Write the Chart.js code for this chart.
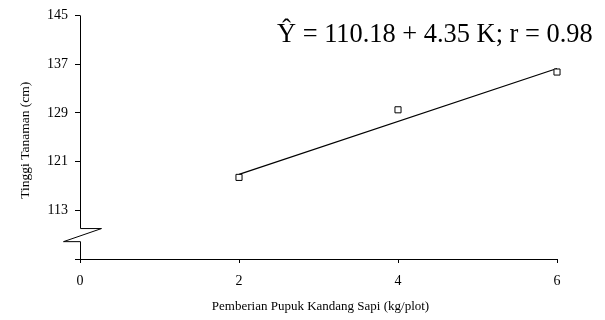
<!DOCTYPE html>
<html>
<head>
<meta charset="utf-8">
<script src="https://cdn.jsdelivr.net/npm/chart.js@4/dist/chart.umd.min.js"></script>
<style>
  html, body { margin: 0; padding: 0; background: #fff; }
  #wrap { width: 605px; height: 320px; position: relative; }
</style>
</head>
<body>
<div id="wrap"><canvas id="c"></canvas></div>
<script>
// Observed plant height for each manure dose
const doses = [2, 4, 6];
const heights = [118.4, 129.5, 135.7];

// Fitted line Ŷ = 110.18 + 4.35 K, evaluated at K = 2 and K = 6
const fitDoses = [2, 6];
const fitHeights = [118.88, 136.28];

const xTicks = [0, 2, 4, 6];
const yTicks = [105, 113, 121, 129, 137, 145];
const yLabelled = [113, 121, 129, 137, 145];

const equationText = 'Ŷ = 110.18 + 4.35 K; r = 0.98';
const xTitle = 'Pemberian Pupuk Kandang Sapi (kg/plot)';
const yTitle = 'Tinggi Tanaman (cm)';

const serif = '"Liberation Serif", "Times New Roman", serif';

// Y axis drawn by hand so it can carry the break symbol near the origin
const brokenAxis = {
  id: 'brokenAxis',
  afterDraw(chart) {
    const { ctx, scales: { x, y } } = chart;
    const ax = x.getPixelForValue(0);
    const top = y.getPixelForValue(145);
    const bottom = y.getPixelForValue(105);
    const b1 = y.getPixelForValue(110);
    const b2 = y.getPixelForValue(107.85);
    ctx.save();
    ctx.strokeStyle = '#000';
    ctx.lineWidth = 1;
    ctx.beginPath();
    ctx.moveTo(ax + 0.5, top);
    ctx.lineTo(ax + 0.5, b1);
    ctx.lineTo(ax + 21.5, b1);
    ctx.lineTo(ax - 16.5, b2);
    ctx.lineTo(ax + 0.5, b2);
    ctx.lineTo(ax + 0.5, bottom);
    ctx.stroke();
    ctx.restore();
  }
};

// Axis titles and the regression equation
const labels = {
  id: 'labels',
  afterDraw(chart) {
    const { ctx, chartArea } = chart;
    ctx.save();
    ctx.fillStyle = '#000';
    ctx.font = '13px ' + serif;
    ctx.textAlign = 'center';
    ctx.textBaseline = 'middle';
    ctx.fillText(xTitle, (chartArea.left + chartArea.right) / 2 + 2, 307);
    ctx.font = '13.5px ' + serif;
    ctx.translate(25, (chartArea.top + chartArea.bottom) / 2 + 3);
    ctx.rotate(-Math.PI / 2);
    ctx.fillText(yTitle, 0, 0);
    ctx.restore();

    ctx.save();
    ctx.fillStyle = '#000';
    ctx.font = '26.4px ' + serif;
    ctx.textAlign = 'left';
    ctx.textBaseline = 'alphabetic';
    ctx.fillText(equationText, 277, 42);
    ctx.restore();
  }
};

new Chart(document.getElementById('c'), {
  type: 'scatter',
  data: {
    datasets: [
      {
        label: 'Pengamatan',
        data: doses.map((d, i) => ({ x: d, y: heights[i] })),
        pointStyle: 'rect',
        pointRadius: 4.3,
        pointHoverRadius: 4.3,
        pointBackgroundColor: '#fff',
        pointBorderColor: '#000',
        pointBorderWidth: 1,
        showLine: false,
        clip: false,
        order: 0
      },
      {
        label: 'Regresi',
        data: fitDoses.map((d, i) => ({ x: d, y: fitHeights[i] })),
        showLine: true,
        borderColor: '#000',
        borderWidth: 1.3,
        pointRadius: 0,
        clip: false,
        order: 1
      }
    ]
  },
  options: {
    responsive: true,
    maintainAspectRatio: false,
    animation: false,
    events: [],
    layout: { padding: { top: 14, right: 48, left: 0, bottom: 0 } },
    plugins: {
      legend: { display: false },
      tooltip: { enabled: false }
    },
    scales: {
      x: {
        type: 'linear',
        min: 0,
        max: 6,
        afterBuildTicks(scale) { scale.ticks = xTicks.map(v => ({ value: v })); },
        afterFit(scale) { scale.height = 61; },
        grid: { drawOnChartArea: false, drawTicks: true, tickLength: 4, color: '#000', lineWidth: 1 },
        border: { display: true, color: '#000', width: 1 },
        ticks: {
          color: '#000',
          padding: 10,
          maxRotation: 0,
          font: { family: serif, size: 14 }
        }
      },
      y: {
        type: 'linear',
        min: 105,
        max: 145,
        afterBuildTicks(scale) { scale.ticks = yTicks.map(v => ({ value: v })); },
        afterFit(scale) { scale.width = 80; },
        grid: { drawOnChartArea: false, drawTicks: true, tickLength: 5, color: '#000', lineWidth: 1 },
        border: { display: false },
        ticks: {
          color: '#000',
          padding: 7,
          font: { family: serif, size: 14 },
          callback: v => (yLabelled.includes(v) ? String(v) : '')
        }
      }
    }
  },
  plugins: [brokenAxis, labels]
});
</script>
</body>
</html>
